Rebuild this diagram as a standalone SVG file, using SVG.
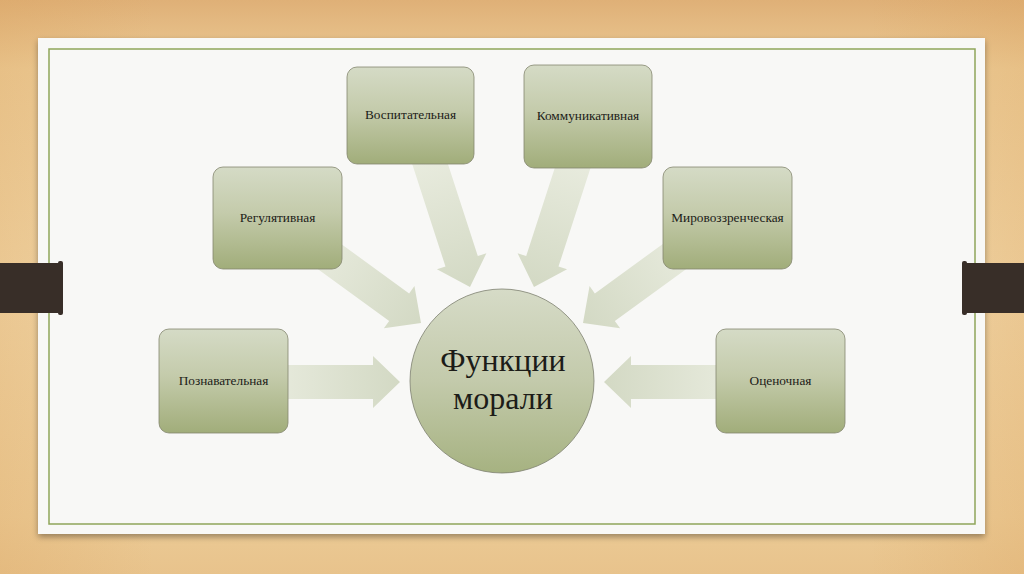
<svg xmlns="http://www.w3.org/2000/svg" width="1024" height="574" viewBox="0 0 1024 574">
  <defs>
    <linearGradient id="wood" x1="0" y1="0" x2="0" y2="1">
      <stop offset="0" stop-color="#dfb077"/>
      <stop offset="0.12" stop-color="#eccb96"/>
      <stop offset="0.5" stop-color="#f1d6a7"/>
      <stop offset="0.9" stop-color="#eccb96"/>
      <stop offset="1" stop-color="#e8c38c"/>
    </linearGradient>
    <linearGradient id="woodSide" x1="0" y1="0" x2="1" y2="0">
      <stop offset="0" stop-color="#d99f58" stop-opacity="0.25"/>
      <stop offset="0.15" stop-color="#d99f58" stop-opacity="0"/>
      <stop offset="0.85" stop-color="#d99f58" stop-opacity="0"/>
      <stop offset="1" stop-color="#d99f58" stop-opacity="0.25"/>
    </linearGradient>
    <linearGradient id="boxGrad" x1="0" y1="0" x2="0" y2="1">
      <stop offset="0" stop-color="#d5dbc6"/>
      <stop offset="0.45" stop-color="#c4cbab"/>
      <stop offset="1" stop-color="#a1ad7a"/>
    </linearGradient>
    <linearGradient id="circGrad" x1="0" y1="0" x2="0" y2="1">
      <stop offset="0" stop-color="#d6dbc7"/>
      <stop offset="0.5" stop-color="#c3caab"/>
      <stop offset="1" stop-color="#a6b281"/>
    </linearGradient>
    <linearGradient id="arrowGrad" x1="0" y1="0" x2="1" y2="0">
      <stop offset="0" stop-color="#e9ecdf"/>
      <stop offset="1" stop-color="#d3d9c4"/>
    </linearGradient>
    <filter id="shadow" x="-10%" y="-10%" width="120%" height="130%">
      <feGaussianBlur in="SourceAlpha" stdDeviation="3"/>
      <feOffset dx="0" dy="3"/>
      <feComponentTransfer><feFuncA type="linear" slope="0.35"/></feComponentTransfer>
      <feMerge><feMergeNode/><feMergeNode in="SourceGraphic"/></feMerge>
    </filter>
    <polygon id="arrow" points="-140,-17 -27,-17 -27,-26 0,0 -27,26 -27,17 -140,17"/>
  </defs>
  <style>
    .box { fill: url(#boxGrad); stroke: #84866f; stroke-width: 0.8; }
    .lbl { font-family: "Liberation Serif", "DejaVu Serif", serif; font-size: 13.3px; fill: #1c1c18; text-anchor: middle; }
    .big { font-family: "Liberation Serif", "DejaVu Serif", serif; font-size: 32px; fill: #1c1c18; text-anchor: middle; }
    .arr { fill: url(#arrowGrad); }
    .bar { fill: #382e28; }
  </style>

  <!-- background -->
  <rect x="0" y="0" width="1024" height="574" fill="url(#wood)"/>
  <rect x="0" y="0" width="1024" height="574" fill="url(#woodSide)"/>

  <!-- panel -->
  <rect x="38" y="38" width="947" height="496" fill="#f8f8f6" filter="url(#shadow)"/>
  <rect x="49" y="49" width="926" height="475" fill="none" stroke="#8fa55a" stroke-width="1.5"/>

  <!-- side bars -->
  <rect class="bar" x="0" y="263" width="62" height="50"/>
  <rect class="bar" x="58" y="261" width="5" height="54" rx="2"/>
  <rect class="bar" x="963" y="263" width="61" height="50"/>
  <rect class="bar" x="962" y="261" width="5" height="54" rx="2"/>

  <!-- connectors -->
  <g id="connectors">
    <use href="#arrow" class="arr" transform="translate(400,382)"/>
    <use href="#arrow" class="arr" transform="translate(421,323) rotate(36)"/>
    <use href="#arrow" class="arr" transform="translate(470,287) rotate(72)"/>
    <use href="#arrow" class="arr" transform="translate(534,287) rotate(108)"/>
    <use href="#arrow" class="arr" transform="translate(583,323) rotate(144)"/>
    <use href="#arrow" class="arr" transform="translate(604,382) rotate(180)"/>
  </g>

  <!-- center -->
  <g id="center">
    <circle cx="502" cy="381" r="92" fill="url(#circGrad)" stroke="#7e8070" stroke-width="0.8"/>
    <text class="big" x="503" y="371">Функции</text>
    <text class="big" x="503" y="409">морали</text>
  </g>

  <g id="n-poznavatelnaya">
    <rect class="box" x="159" y="329" width="129" height="104" rx="10"/>
    <text class="lbl" x="223.5" y="385">Познавательная</text>
  </g>
  <g id="n-regulyativnaya">
    <rect class="box" x="213" y="167" width="129" height="102" rx="10"/>
    <text class="lbl" x="277.5" y="222">Регулятивная</text>
  </g>
  <g id="n-vospitatelnaya">
    <rect class="box" x="347" y="67" width="127" height="97" rx="10"/>
    <text class="lbl" x="410.5" y="119">Воспитательная</text>
  </g>
  <g id="n-kommunikativnaya">
    <rect class="box" x="524" y="65" width="128" height="103" rx="10"/>
    <text class="lbl" x="588" y="120">Коммуникативная</text>
  </g>
  <g id="n-mirovozzrencheskaya">
    <rect class="box" x="663" y="167" width="129" height="102" rx="10"/>
    <text class="lbl" x="727.5" y="222">Мировоззренческая</text>
  </g>
  <g id="n-otsenochnaya">
    <rect class="box" x="716" y="329" width="129" height="104" rx="10"/>
    <text class="lbl" x="780.5" y="385">Оценочная</text>
  </g>
</svg>
